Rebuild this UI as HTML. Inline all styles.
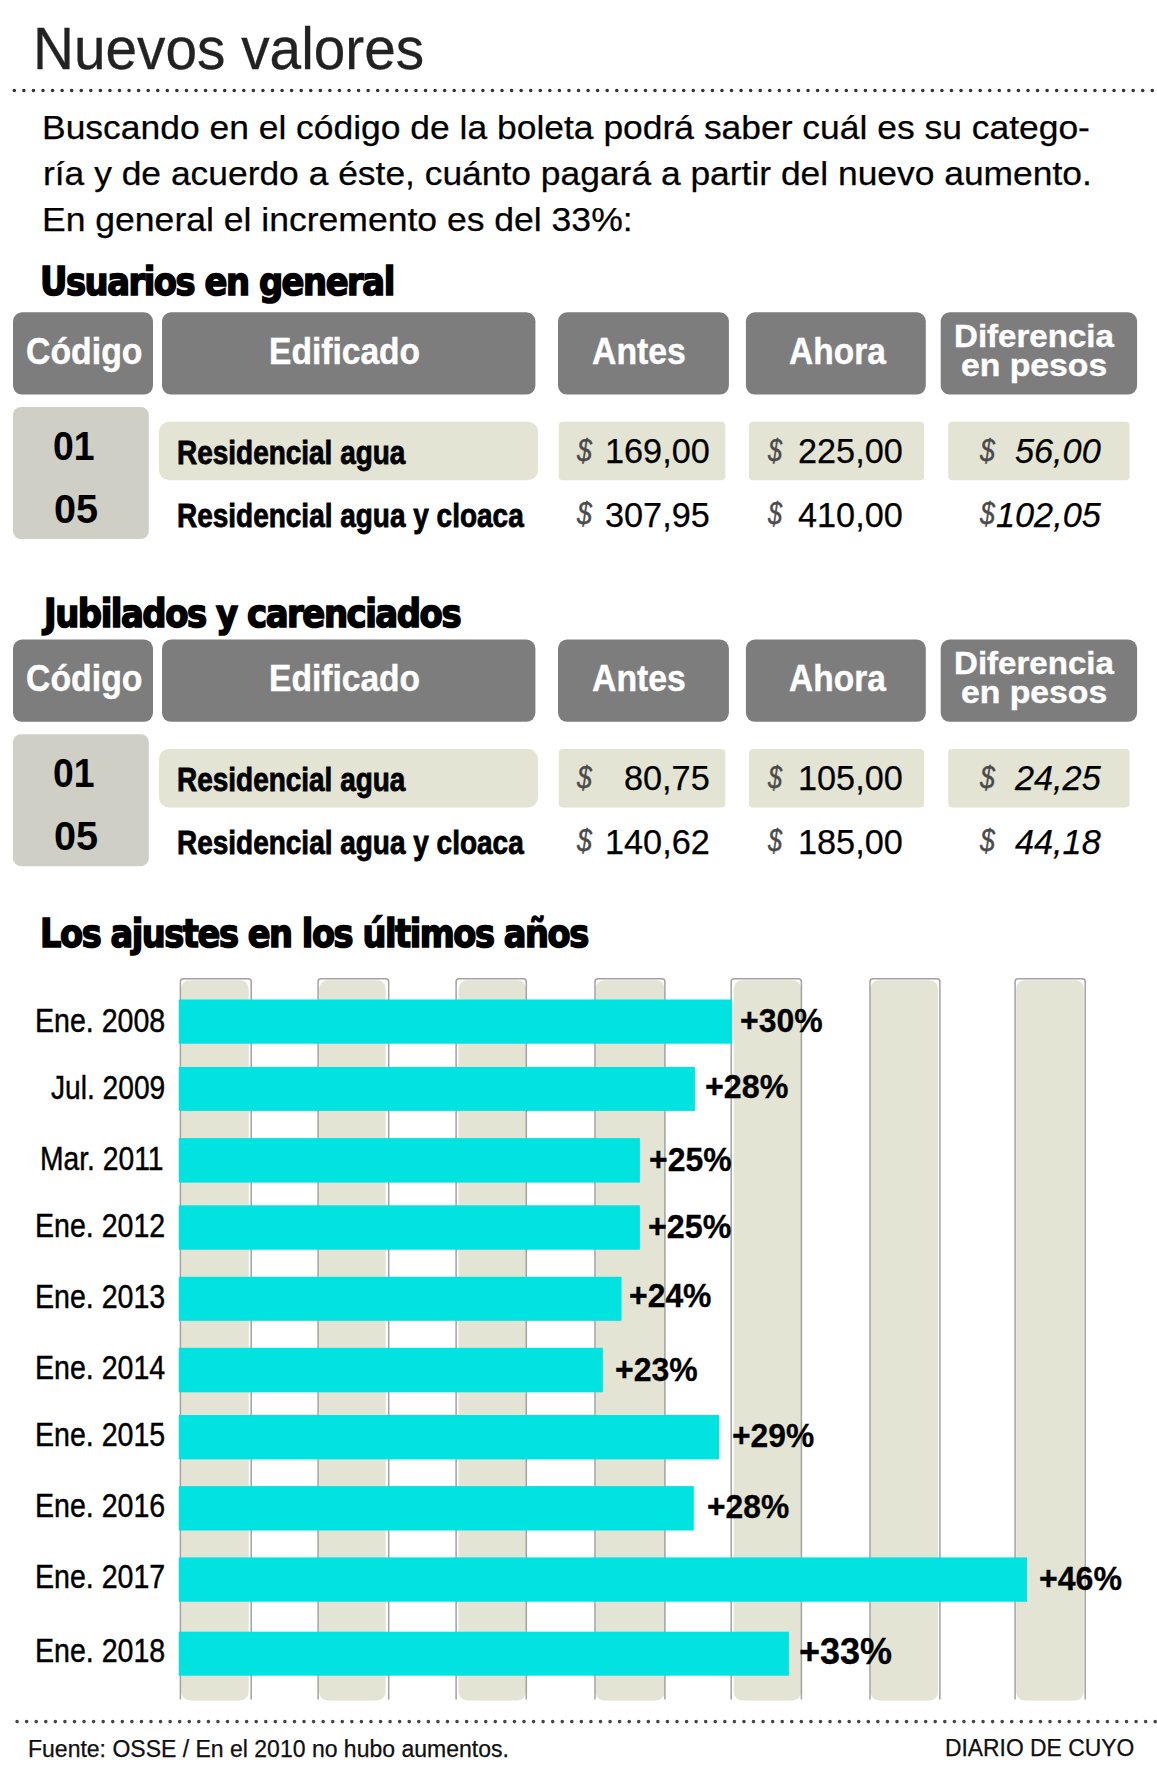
<!DOCTYPE html>
<html lang="es"><head><meta charset="utf-8"><title>Nuevos valores</title>
<style>
html,body{margin:0;padding:0;background:#fff}
#c{position:relative;width:1157px;height:1772px;overflow:hidden;background:#fff}
.t{position:absolute;white-space:pre;line-height:1.2;transform-origin:0 0}
.b{position:absolute}
</style></head><body><div id="c">
<svg class="b" style="left:0;top:0" width="1157" height="1772" viewBox="0 0 1157 1772">
<line x1="14.30" y1="90.50" x2="1152.31" y2="90.50" stroke="#333" stroke-width="3.6" stroke-linecap="round" stroke-dasharray="0 9.5630"/>
<line x1="17.10" y1="1721.60" x2="1155.21" y2="1721.60" stroke="#444" stroke-width="3.6" stroke-linecap="round" stroke-dasharray="0 9.5639"/>
<rect x="13.0" y="312.3" width="140.0" height="82.3" rx="9" ry="9" fill="#7d7d7d"/>
<rect x="162.0" y="312.3" width="373.4" height="82.3" rx="9" ry="9" fill="#7d7d7d"/>
<rect x="558.0" y="312.3" width="170.9" height="82.3" rx="9" ry="9" fill="#7d7d7d"/>
<rect x="745.9" y="312.3" width="179.9" height="82.3" rx="9" ry="9" fill="#7d7d7d"/>
<rect x="940.7" y="312.3" width="196.4" height="82.3" rx="9" ry="9" fill="#7d7d7d"/>
<rect x="13.0" y="407.0" width="135.8" height="132.0" rx="8" ry="8" fill="#cfcfc5"/>
<rect x="159.0" y="421.8" width="379.0" height="58.5" rx="10" ry="10" fill="#e3e4d4"/>
<rect x="558.8" y="421.8" width="166.5" height="58.5" rx="4" ry="4" fill="#e3e4d4"/>
<rect x="749.0" y="421.8" width="175.1" height="58.5" rx="4" ry="4" fill="#e3e4d4"/>
<rect x="948.2" y="421.8" width="181.4" height="58.5" rx="4" ry="4" fill="#e3e4d4"/>
<rect x="13.0" y="639.5" width="140.0" height="82.3" rx="9" ry="9" fill="#7d7d7d"/>
<rect x="162.0" y="639.5" width="373.4" height="82.3" rx="9" ry="9" fill="#7d7d7d"/>
<rect x="558.0" y="639.5" width="170.9" height="82.3" rx="9" ry="9" fill="#7d7d7d"/>
<rect x="745.9" y="639.5" width="179.9" height="82.3" rx="9" ry="9" fill="#7d7d7d"/>
<rect x="940.7" y="639.5" width="196.4" height="82.3" rx="9" ry="9" fill="#7d7d7d"/>
<rect x="13.0" y="734.2" width="135.8" height="132.0" rx="8" ry="8" fill="#cfcfc5"/>
<rect x="159.0" y="749.0" width="379.0" height="58.5" rx="10" ry="10" fill="#e3e4d4"/>
<rect x="558.8" y="749.0" width="166.5" height="58.5" rx="4" ry="4" fill="#e3e4d4"/>
<rect x="749.0" y="749.0" width="175.1" height="58.5" rx="4" ry="4" fill="#e3e4d4"/>
<rect x="948.2" y="749.0" width="181.4" height="58.5" rx="4" ry="4" fill="#e3e4d4"/>
<rect x="181.2" y="980.2" width="67.5" height="720.2" rx="8.5" ry="8.5" fill="#e3e4d4"/>
<path d="M180.4 1699.4 V981.7 Q180.4 978.7 183.4 978.7 H248.2 Q251.2 978.7 251.2 981.7 V1699.4" fill="none" stroke="#a2a2a2" stroke-width="1.5"/>
<rect x="319.1" y="980.2" width="66.6" height="720.2" rx="8.5" ry="8.5" fill="#e3e4d4"/>
<path d="M318.1 1699.4 V981.7 Q318.1 978.7 321.1 978.7 H385.7 Q388.7 978.7 388.7 981.7 V1699.4" fill="none" stroke="#a2a2a2" stroke-width="1.5"/>
<rect x="458.6" y="980.2" width="67.5" height="720.2" rx="8.5" ry="8.5" fill="#e3e4d4"/>
<path d="M456.1 1699.4 V981.7 Q456.1 978.7 459.1 978.7 H523.3 Q526.3 978.7 526.3 981.7 V1699.4" fill="none" stroke="#a2a2a2" stroke-width="1.5"/>
<rect x="595.5" y="980.2" width="69.2" height="720.2" rx="8.5" ry="8.5" fill="#e3e4d4"/>
<path d="M595.0 1699.4 V981.7 Q595.0 978.7 598.0 978.7 H661.9 Q664.9 978.7 664.9 981.7 V1699.4" fill="none" stroke="#a2a2a2" stroke-width="1.5"/>
<rect x="733.7" y="980.2" width="67.5" height="720.2" rx="8.5" ry="8.5" fill="#e3e4d4"/>
<path d="M731.2 1699.4 V981.7 Q731.2 978.7 734.2 978.7 H798.4 Q801.4 978.7 801.4 981.7 V1699.4" fill="none" stroke="#a2a2a2" stroke-width="1.5"/>
<rect x="870.5" y="980.2" width="67.6" height="720.2" rx="8.5" ry="8.5" fill="#e3e4d4"/>
<path d="M870.0 1699.4 V981.7 Q870.0 978.7 873.0 978.7 H936.9 Q939.9 978.7 939.9 981.7 V1699.4" fill="none" stroke="#a2a2a2" stroke-width="1.5"/>
<rect x="1016.2" y="980.2" width="67.6" height="720.2" rx="8.5" ry="8.5" fill="#e3e4d4"/>
<path d="M1015.1 1699.4 V981.7 Q1015.1 978.7 1018.1 978.7 H1082.2 Q1085.2 978.7 1085.2 981.7 V1699.4" fill="none" stroke="#a2a2a2" stroke-width="1.5"/>
<rect x="178.8" y="999.5" width="553.2" height="44.2" rx="0" ry="0" fill="#00e3e1"/>
<rect x="178.8" y="1067.0" width="516.1" height="43.9" rx="0" ry="0" fill="#00e3e1"/>
<rect x="178.8" y="1138.1" width="461.1" height="44.5" rx="0" ry="0" fill="#00e3e1"/>
<rect x="178.8" y="1205.3" width="461.1" height="44.4" rx="0" ry="0" fill="#00e3e1"/>
<rect x="178.8" y="1276.8" width="442.7" height="44.0" rx="0" ry="0" fill="#00e3e1"/>
<rect x="178.8" y="1347.8" width="424.0" height="44.5" rx="0" ry="0" fill="#00e3e1"/>
<rect x="178.8" y="1415.0" width="540.2" height="44.4" rx="0" ry="0" fill="#00e3e1"/>
<rect x="178.8" y="1486.1" width="515.0" height="44.4" rx="0" ry="0" fill="#00e3e1"/>
<rect x="178.8" y="1557.4" width="848.2" height="44.3" rx="0" ry="0" fill="#00e3e1"/>
<rect x="178.8" y="1631.7" width="610.1" height="44.0" rx="0" ry="0" fill="#00e3e1"/>
</svg>
<span class="t" style="left:33.2px;top:12.8px;font-family:'Liberation Sans', sans-serif;font-size:59.3px;font-weight:400;font-style:normal;color:#222;-webkit-text-stroke:.3px #222;transform:scaleX(0.9572);">Nuevos valores</span>
<span class="t" style="left:42.3px;top:107.1px;font-family:'Liberation Sans', sans-serif;font-size:34px;font-weight:400;font-style:normal;color:#000;-webkit-text-stroke:.25px #000;transform:scaleX(1.0421);">Buscando en el código de la boleta podrá saber cuál es su catego-</span>
<span class="t" style="left:43.3px;top:153.0px;font-family:'Liberation Sans', sans-serif;font-size:34px;font-weight:400;font-style:normal;color:#000;-webkit-text-stroke:.25px #000;transform:scaleX(1.0411);">ría y de acuerdo a éste, cuánto pagará a partir del nuevo aumento.</span>
<span class="t" style="left:42.3px;top:198.9px;font-family:'Liberation Sans', sans-serif;font-size:34px;font-weight:400;font-style:normal;color:#000;-webkit-text-stroke:.25px #000;transform:scaleX(1.0451);">En general el incremento es del 33%:</span>
<span class="t" style="left:39.6px;top:258.7px;font-family:'DejaVu Sans Condensed', 'DejaVu Sans', sans-serif;font-size:39px;font-weight:700;font-style:normal;color:#000;-webkit-text-stroke:1.5px #000;letter-spacing:-1.5px;transform:scaleX(0.9619);">Usuarios en general</span>
<span class="t" style="left:44.4px;top:591.0px;font-family:'DejaVu Sans Condensed', 'DejaVu Sans', sans-serif;font-size:39px;font-weight:700;font-style:normal;color:#000;-webkit-text-stroke:1.5px #000;letter-spacing:-1.5px;transform:scaleX(0.9657);">Jubilados y carenciados</span>
<span class="t" style="left:39.6px;top:911.0px;font-family:'DejaVu Sans Condensed', 'DejaVu Sans', sans-serif;font-size:39px;font-weight:700;font-style:normal;color:#000;-webkit-text-stroke:1.5px #000;letter-spacing:-1.5px;transform:scaleX(0.9581);">Los ajustes en los últimos años</span>
<span class="t" style="left:26.3px;top:330.3px;font-family:'Liberation Sans', sans-serif;font-size:36.3px;font-weight:700;font-style:normal;color:#fff;-webkit-text-stroke:.4px #fff;transform:scaleX(0.9317);">Código</span>
<span class="t" style="left:269.4px;top:330.3px;font-family:'Liberation Sans', sans-serif;font-size:36.3px;font-weight:700;font-style:normal;color:#fff;-webkit-text-stroke:.4px #fff;transform:scaleX(0.9250);">Edificado</span>
<span class="t" style="left:591.6px;top:330.2px;font-family:'Liberation Sans', sans-serif;font-size:36.3px;font-weight:700;font-style:normal;color:#fff;-webkit-text-stroke:.4px #fff;transform:scaleX(0.9303);">Antes</span>
<span class="t" style="left:788.6px;top:330.2px;font-family:'Liberation Sans', sans-serif;font-size:36.3px;font-weight:700;font-style:normal;color:#fff;-webkit-text-stroke:.4px #fff;transform:scaleX(0.9231);">Ahora</span>
<span class="t" style="left:953.8px;top:318.1px;font-family:'Liberation Sans', sans-serif;font-size:31.5px;font-weight:700;font-style:normal;color:#fff;-webkit-text-stroke:.4px #fff;transform:scaleX(1.0497);">Diferencia</span>
<span class="t" style="left:961.2px;top:346.7px;font-family:'Liberation Sans', sans-serif;font-size:31.5px;font-weight:700;font-style:normal;color:#fff;-webkit-text-stroke:.4px #fff;transform:scaleX(1.0709);">en pesos</span>
<span class="t" style="left:52.8px;top:420.6px;font-family:'Liberation Sans', sans-serif;font-size:41.5px;font-weight:700;font-style:normal;color:#000;transform:scaleX(0.9000);">01</span>
<span class="t" style="left:53.5px;top:484.2px;font-family:'Liberation Sans', sans-serif;font-size:41.5px;font-weight:700;font-style:normal;color:#000;transform:scaleX(0.9550);">05</span>
<span class="t" style="left:176.7px;top:433.9px;font-family:'Liberation Sans', sans-serif;font-size:32.5px;font-weight:700;font-style:normal;color:#000;-webkit-text-stroke:.8px #000;transform:scaleX(0.8602);">Residencial agua</span>
<span class="t" style="left:176.7px;top:496.9px;font-family:'Liberation Sans', sans-serif;font-size:32.5px;font-weight:700;font-style:normal;color:#000;-webkit-text-stroke:.8px #000;transform:scaleX(0.8606);">Residencial agua y cloaca</span>
<span class="t" style="left:576.8px;top:431.8px;font-family:'Liberation Sans', sans-serif;font-size:30.5px;font-weight:400;font-style:italic;color:#4a4a4a;-webkit-text-stroke:.35px #4a4a4a;transform:scaleX(0.8765);">$</span>
<span class="t" style="left:604.6px;top:430.2px;font-family:'Liberation Sans', sans-serif;font-size:35.5px;font-weight:400;font-style:normal;color:#000;-webkit-text-stroke:.25px #000;transform:scaleX(0.9650);">169,00</span>
<span class="t" style="left:768.1px;top:431.8px;font-family:'Liberation Sans', sans-serif;font-size:30.5px;font-weight:400;font-style:italic;color:#4a4a4a;-webkit-text-stroke:.35px #4a4a4a;transform:scaleX(0.8294);">$</span>
<span class="t" style="left:798.2px;top:430.2px;font-family:'Liberation Sans', sans-serif;font-size:35.5px;font-weight:400;font-style:normal;color:#000;-webkit-text-stroke:.25px #000;transform:scaleX(0.9650);">225,00</span>
<span class="t" style="left:980.3px;top:431.8px;font-family:'Liberation Sans', sans-serif;font-size:30.5px;font-weight:400;font-style:italic;color:#4a4a4a;-webkit-text-stroke:.35px #4a4a4a;transform:scaleX(0.8765);">$</span>
<span class="t" style="left:1015.1px;top:430.2px;font-family:'Liberation Sans', sans-serif;font-size:35.5px;font-weight:400;font-style:italic;color:#000;-webkit-text-stroke:.25px #000;transform:scaleX(0.9650);">56,00</span>
<span class="t" style="left:576.8px;top:495.4px;font-family:'Liberation Sans', sans-serif;font-size:30.5px;font-weight:400;font-style:italic;color:#4a4a4a;-webkit-text-stroke:.35px #4a4a4a;transform:scaleX(0.8765);">$</span>
<span class="t" style="left:604.6px;top:493.8px;font-family:'Liberation Sans', sans-serif;font-size:35.5px;font-weight:400;font-style:normal;color:#000;-webkit-text-stroke:.25px #000;transform:scaleX(0.9650);">307,95</span>
<span class="t" style="left:768.1px;top:495.4px;font-family:'Liberation Sans', sans-serif;font-size:30.5px;font-weight:400;font-style:italic;color:#4a4a4a;-webkit-text-stroke:.35px #4a4a4a;transform:scaleX(0.8294);">$</span>
<span class="t" style="left:798.2px;top:493.8px;font-family:'Liberation Sans', sans-serif;font-size:35.5px;font-weight:400;font-style:normal;color:#000;-webkit-text-stroke:.25px #000;transform:scaleX(0.9650);">410,00</span>
<span class="t" style="left:980.3px;top:495.4px;font-family:'Liberation Sans', sans-serif;font-size:30.5px;font-weight:400;font-style:italic;color:#4a4a4a;-webkit-text-stroke:.35px #4a4a4a;transform:scaleX(0.8765);">$</span>
<span class="t" style="left:995.8px;top:493.8px;font-family:'Liberation Sans', sans-serif;font-size:35.5px;font-weight:400;font-style:italic;color:#000;-webkit-text-stroke:.25px #000;transform:scaleX(0.9650);">102,05</span>
<span class="t" style="left:26.3px;top:657.3px;font-family:'Liberation Sans', sans-serif;font-size:36.3px;font-weight:700;font-style:normal;color:#fff;-webkit-text-stroke:.4px #fff;transform:scaleX(0.9317);">Código</span>
<span class="t" style="left:269.4px;top:657.3px;font-family:'Liberation Sans', sans-serif;font-size:36.3px;font-weight:700;font-style:normal;color:#fff;-webkit-text-stroke:.4px #fff;transform:scaleX(0.9250);">Edificado</span>
<span class="t" style="left:591.6px;top:657.2px;font-family:'Liberation Sans', sans-serif;font-size:36.3px;font-weight:700;font-style:normal;color:#fff;-webkit-text-stroke:.4px #fff;transform:scaleX(0.9303);">Antes</span>
<span class="t" style="left:788.6px;top:657.2px;font-family:'Liberation Sans', sans-serif;font-size:36.3px;font-weight:700;font-style:normal;color:#fff;-webkit-text-stroke:.4px #fff;transform:scaleX(0.9231);">Ahora</span>
<span class="t" style="left:953.8px;top:645.1px;font-family:'Liberation Sans', sans-serif;font-size:31.5px;font-weight:700;font-style:normal;color:#fff;-webkit-text-stroke:.4px #fff;transform:scaleX(1.0497);">Diferencia</span>
<span class="t" style="left:961.2px;top:673.7px;font-family:'Liberation Sans', sans-serif;font-size:31.5px;font-weight:700;font-style:normal;color:#fff;-webkit-text-stroke:.4px #fff;transform:scaleX(1.0709);">en pesos</span>
<span class="t" style="left:52.8px;top:747.6px;font-family:'Liberation Sans', sans-serif;font-size:41.5px;font-weight:700;font-style:normal;color:#000;transform:scaleX(0.9000);">01</span>
<span class="t" style="left:53.5px;top:811.2px;font-family:'Liberation Sans', sans-serif;font-size:41.5px;font-weight:700;font-style:normal;color:#000;transform:scaleX(0.9550);">05</span>
<span class="t" style="left:176.7px;top:760.9px;font-family:'Liberation Sans', sans-serif;font-size:32.5px;font-weight:700;font-style:normal;color:#000;-webkit-text-stroke:.8px #000;transform:scaleX(0.8602);">Residencial agua</span>
<span class="t" style="left:176.7px;top:823.9px;font-family:'Liberation Sans', sans-serif;font-size:32.5px;font-weight:700;font-style:normal;color:#000;-webkit-text-stroke:.8px #000;transform:scaleX(0.8606);">Residencial agua y cloaca</span>
<span class="t" style="left:576.8px;top:758.8px;font-family:'Liberation Sans', sans-serif;font-size:30.5px;font-weight:400;font-style:italic;color:#4a4a4a;-webkit-text-stroke:.35px #4a4a4a;transform:scaleX(0.8765);">$</span>
<span class="t" style="left:623.9px;top:757.2px;font-family:'Liberation Sans', sans-serif;font-size:35.5px;font-weight:400;font-style:normal;color:#000;-webkit-text-stroke:.25px #000;transform:scaleX(0.9650);">80,75</span>
<span class="t" style="left:768.1px;top:758.8px;font-family:'Liberation Sans', sans-serif;font-size:30.5px;font-weight:400;font-style:italic;color:#4a4a4a;-webkit-text-stroke:.35px #4a4a4a;transform:scaleX(0.8294);">$</span>
<span class="t" style="left:798.2px;top:757.2px;font-family:'Liberation Sans', sans-serif;font-size:35.5px;font-weight:400;font-style:normal;color:#000;-webkit-text-stroke:.25px #000;transform:scaleX(0.9650);">105,00</span>
<span class="t" style="left:980.3px;top:758.8px;font-family:'Liberation Sans', sans-serif;font-size:30.5px;font-weight:400;font-style:italic;color:#4a4a4a;-webkit-text-stroke:.35px #4a4a4a;transform:scaleX(0.8765);">$</span>
<span class="t" style="left:1015.1px;top:757.2px;font-family:'Liberation Sans', sans-serif;font-size:35.5px;font-weight:400;font-style:italic;color:#000;-webkit-text-stroke:.25px #000;transform:scaleX(0.9650);">24,25</span>
<span class="t" style="left:576.8px;top:822.4px;font-family:'Liberation Sans', sans-serif;font-size:30.5px;font-weight:400;font-style:italic;color:#4a4a4a;-webkit-text-stroke:.35px #4a4a4a;transform:scaleX(0.8765);">$</span>
<span class="t" style="left:604.6px;top:820.8px;font-family:'Liberation Sans', sans-serif;font-size:35.5px;font-weight:400;font-style:normal;color:#000;-webkit-text-stroke:.25px #000;transform:scaleX(0.9650);">140,62</span>
<span class="t" style="left:768.1px;top:822.4px;font-family:'Liberation Sans', sans-serif;font-size:30.5px;font-weight:400;font-style:italic;color:#4a4a4a;-webkit-text-stroke:.35px #4a4a4a;transform:scaleX(0.8294);">$</span>
<span class="t" style="left:798.2px;top:820.8px;font-family:'Liberation Sans', sans-serif;font-size:35.5px;font-weight:400;font-style:normal;color:#000;-webkit-text-stroke:.25px #000;transform:scaleX(0.9650);">185,00</span>
<span class="t" style="left:980.3px;top:822.4px;font-family:'Liberation Sans', sans-serif;font-size:30.5px;font-weight:400;font-style:italic;color:#4a4a4a;-webkit-text-stroke:.35px #4a4a4a;transform:scaleX(0.8765);">$</span>
<span class="t" style="left:1015.1px;top:820.8px;font-family:'Liberation Sans', sans-serif;font-size:35.5px;font-weight:400;font-style:italic;color:#000;-webkit-text-stroke:.25px #000;transform:scaleX(0.9650);">44,18</span>
<span class="t" style="left:34.9px;top:999.9px;font-family:'Liberation Sans', sans-serif;font-size:34px;font-weight:400;font-style:normal;color:#000;-webkit-text-stroke:.45px #000;transform:scaleX(0.8395);">Ene. 2008</span>
<span class="t" style="left:50.8px;top:1067.0px;font-family:'Liberation Sans', sans-serif;font-size:34px;font-weight:400;font-style:normal;color:#000;-webkit-text-stroke:.45px #000;transform:scaleX(0.8277);">Jul. 2009</span>
<span class="t" style="left:40.2px;top:1138.1px;font-family:'Liberation Sans', sans-serif;font-size:34px;font-weight:400;font-style:normal;color:#000;-webkit-text-stroke:.45px #000;transform:scaleX(0.8303);">Mar. 2011</span>
<span class="t" style="left:34.9px;top:1204.9px;font-family:'Liberation Sans', sans-serif;font-size:34px;font-weight:400;font-style:normal;color:#000;-webkit-text-stroke:.45px #000;transform:scaleX(0.8395);">Ene. 2012</span>
<span class="t" style="left:34.9px;top:1276.0px;font-family:'Liberation Sans', sans-serif;font-size:34px;font-weight:400;font-style:normal;color:#000;-webkit-text-stroke:.45px #000;transform:scaleX(0.8395);">Ene. 2013</span>
<span class="t" style="left:34.9px;top:1346.8px;font-family:'Liberation Sans', sans-serif;font-size:34px;font-weight:400;font-style:normal;color:#000;-webkit-text-stroke:.45px #000;transform:scaleX(0.8395);">Ene. 2014</span>
<span class="t" style="left:34.9px;top:1414.0px;font-family:'Liberation Sans', sans-serif;font-size:34px;font-weight:400;font-style:normal;color:#000;-webkit-text-stroke:.45px #000;transform:scaleX(0.8395);">Ene. 2015</span>
<span class="t" style="left:34.9px;top:1484.7px;font-family:'Liberation Sans', sans-serif;font-size:34px;font-weight:400;font-style:normal;color:#000;-webkit-text-stroke:.45px #000;transform:scaleX(0.8395);">Ene. 2016</span>
<span class="t" style="left:34.9px;top:1555.8px;font-family:'Liberation Sans', sans-serif;font-size:34px;font-weight:400;font-style:normal;color:#000;-webkit-text-stroke:.45px #000;transform:scaleX(0.8395);">Ene. 2017</span>
<span class="t" style="left:34.9px;top:1629.9px;font-family:'Liberation Sans', sans-serif;font-size:34px;font-weight:400;font-style:normal;color:#000;-webkit-text-stroke:.45px #000;transform:scaleX(0.8395);">Ene. 2018</span>
<span class="t" style="left:739.7px;top:1000.3px;font-family:'Liberation Sans', sans-serif;font-size:34.0px;font-weight:700;font-style:normal;color:#000;-webkit-text-stroke:.3px #000;transform:scaleX(0.9407);">+30%</span>
<span class="t" style="left:704.8px;top:1066.0px;font-family:'Liberation Sans', sans-serif;font-size:34.0px;font-weight:700;font-style:normal;color:#000;-webkit-text-stroke:.3px #000;transform:scaleX(0.9488);">+28%</span>
<span class="t" style="left:649.3px;top:1138.5px;font-family:'Liberation Sans', sans-serif;font-size:34.0px;font-weight:700;font-style:normal;color:#000;-webkit-text-stroke:.3px #000;transform:scaleX(0.9407);">+25%</span>
<span class="t" style="left:648.0px;top:1206.0px;font-family:'Liberation Sans', sans-serif;font-size:34.0px;font-weight:700;font-style:normal;color:#000;-webkit-text-stroke:.3px #000;transform:scaleX(0.9477);">+25%</span>
<span class="t" style="left:629.1px;top:1275.0px;font-family:'Liberation Sans', sans-serif;font-size:34.0px;font-weight:700;font-style:normal;color:#000;-webkit-text-stroke:.3px #000;transform:scaleX(0.9384);">+24%</span>
<span class="t" style="left:614.9px;top:1348.5px;font-family:'Liberation Sans', sans-serif;font-size:34.0px;font-weight:700;font-style:normal;color:#000;-webkit-text-stroke:.3px #000;transform:scaleX(0.9407);">+23%</span>
<span class="t" style="left:731.8px;top:1414.8px;font-family:'Liberation Sans', sans-serif;font-size:34.0px;font-weight:700;font-style:normal;color:#000;-webkit-text-stroke:.3px #000;transform:scaleX(0.9349);">+29%</span>
<span class="t" style="left:707.1px;top:1485.6px;font-family:'Liberation Sans', sans-serif;font-size:34.0px;font-weight:700;font-style:normal;color:#000;-webkit-text-stroke:.3px #000;transform:scaleX(0.9349);">+28%</span>
<span class="t" style="left:1039.1px;top:1558.4px;font-family:'Liberation Sans', sans-serif;font-size:34.0px;font-weight:700;font-style:normal;color:#000;-webkit-text-stroke:.3px #000;transform:scaleX(0.9442);">+46%</span>
<span class="t" style="left:799.2px;top:1628.7px;font-family:'Liberation Sans', sans-serif;font-size:37.13846153846154px;font-weight:700;font-style:normal;color:#000;-webkit-text-stroke:.3px #000;transform:scaleX(0.9702);">+33%</span>
<span class="t" style="left:27.9px;top:1734.6px;font-family:'Liberation Sans', sans-serif;font-size:23.5px;font-weight:400;font-style:normal;color:#111;-webkit-text-stroke:.25px #000;transform:scaleX(0.9789);">Fuente: OSSE / En el 2010 no hubo aumentos.</span>
<span class="t" style="left:944.9px;top:1734.3px;font-family:'Liberation Sans', sans-serif;font-size:24px;font-weight:400;font-style:normal;color:#111;-webkit-text-stroke:.25px #000;transform:scaleX(0.9526);">DIARIO DE CUYO</span>
</div></body></html>
